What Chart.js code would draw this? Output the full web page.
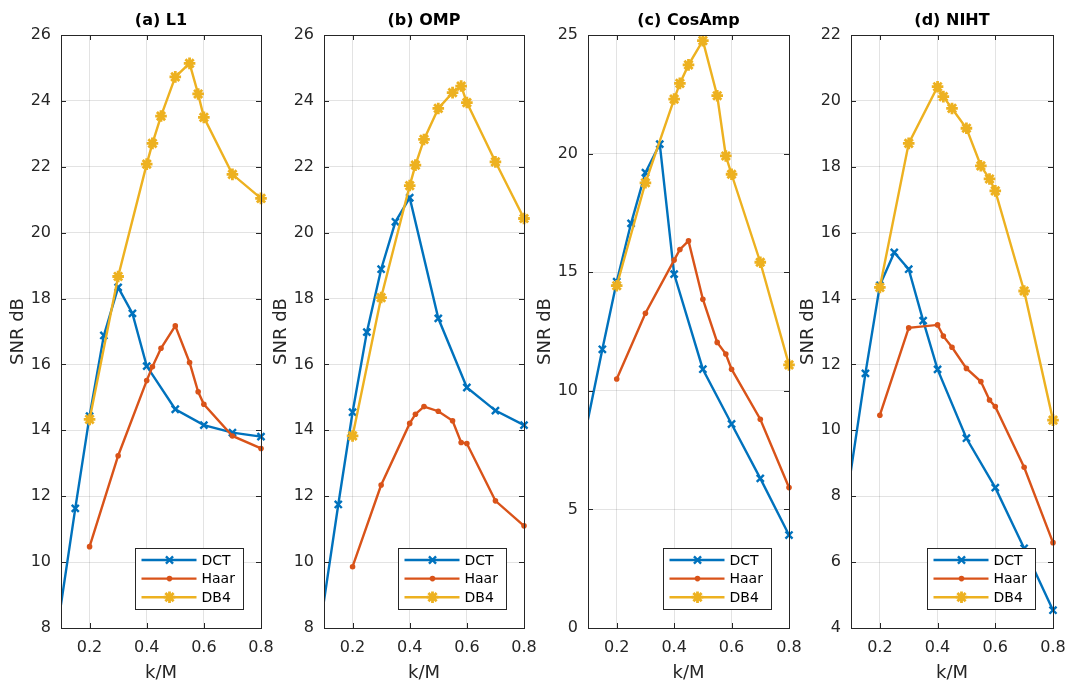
<!DOCTYPE html>
<html>
<head>
<meta charset="utf-8">
<script src="https://cdn.jsdelivr.net/npm/chart.js@4.4.1/dist/chart.umd.min.js"></script>
<style>
  html, body { margin: 0; padding: 0; background: #fff; overflow: hidden; }
  #wrap { position: relative; width: 1068px; height: 686px; overflow: hidden; }
  canvas { position: absolute; top: 0; }
</style>
</head>
<body>
<div id="wrap">
  <canvas id="cA" width="322" height="686" style="left:0px"></canvas>
  <canvas id="cB" width="322" height="686" style="left:263px"></canvas>
  <canvas id="cC" width="323" height="686" style="left:527px"></canvas>
  <canvas id="cD" width="324" height="686" style="left:790px"></canvas>
</div>
<script>
// k/M sample points (DCT has one point left of the visible range)
const kmDct = [0.05, 0.15, 0.2, 0.25, 0.3, 0.35, 0.4, 0.5, 0.6, 0.7, 0.8];
const kmWavelet = [0.2, 0.3, 0.4, 0.42, 0.45, 0.5, 0.55, 0.58, 0.6, 0.7, 0.8];

// (a) L1
const l1Dct = [5.8, 11.63, 14.43, 16.88, 18.34, 17.55, 15.95, 14.64, 14.16, 13.93, 13.81];
const l1Haar = [10.47, 13.23, 15.51, 15.93, 16.49, 17.17, 16.06, 15.17, 14.79, 13.83, 13.45];
const l1Db4 = [14.33, 18.67, 22.08, 22.71, 23.54, 24.73, 25.14, 24.21, 23.5, 21.77, 21.04];

// (b) OMP
const ompDct = [5.9, 11.75, 14.55, 16.98, 18.89, 20.33, 21.06, 17.4, 15.3, 14.6, 14.16];
const ompHaar = [9.86, 12.34, 14.21, 14.49, 14.72, 14.58, 14.29, 13.63, 13.6, 11.86, 11.1];
const ompDb4 = [13.83, 18.03, 21.43, 22.05, 22.83, 23.77, 24.25, 24.45, 23.95, 22.15, 20.43];

// (c) CosAmp
const cosDct = [5.85, 11.75, 14.6, 17.06, 19.2, 20.4, 14.92, 10.91, 8.6, 6.31, 3.92];
const cosHaar = [10.5, 13.27, 15.51, 15.96, 16.32, 13.86, 12.04, 11.55, 10.91, 8.8, 5.92];
const cosDb4 = [14.43, 18.77, 22.3, 22.96, 23.74, 24.76, 22.44, 19.9, 19.13, 15.42, 11.09];

// (d) NIHT
const nihtDct = [5.85, 11.73, 14.4, 15.4, 14.89, 13.33, 11.85, 9.76, 8.26, 6.42, 4.54];
const nihtHaar = [10.46, 13.11, 13.2, 12.86, 12.52, 11.88, 11.48, 10.92, 10.72, 8.88, 6.59];
const nihtDb4 = [14.34, 18.71, 20.43, 20.13, 19.77, 19.17, 18.03, 17.63, 17.27, 14.23, 10.31];

// tick labels
const xTicks = [0.2, 0.4, 0.6, 0.8];
const yTicksL1 = [8, 10, 12, 14, 16, 18, 20, 22, 24, 26];
const yTicksOmp = [8, 10, 12, 14, 16, 18, 20, 22, 24, 26];
const yTicksCos = [0, 5, 10, 15, 20, 25];
const yTicksNiht = [4, 6, 8, 10, 12, 14, 16, 18, 20, 22];

const seriesNames = ["DCT", "Haar", "DB4"];
const axisColor = "#262626";
const colors = ["#0072BD", "#D95319", "#EDB120"];
const fontFamily = "'DejaVu Sans', 'Liberation Sans', Arial, sans-serif";

Chart.defaults.font.family = fontFamily;
Chart.defaults.color = axisColor;

// axes box with inward ticks, like MATLAB's "box on"
const frameTicks = {
    id: "frameTicks",
    afterDraw(chart) {
        const ctx = chart.ctx;
        const a = chart.chartArea;
        const len = 5;
        ctx.save();
        ctx.strokeStyle = axisColor;
        ctx.lineWidth = 1;
        ctx.beginPath();
        chart.scales.x.ticks.forEach((t) => {
            const px = Math.round(chart.scales.x.getPixelForValue(t.value)) + 0.5;
            ctx.moveTo(px, a.bottom); ctx.lineTo(px, a.bottom - len);
            ctx.moveTo(px, a.top); ctx.lineTo(px, a.top + len);
        });
        chart.scales.y.ticks.forEach((t) => {
            const py = Math.round(chart.scales.y.getPixelForValue(t.value)) + 0.5;
            ctx.moveTo(a.left, py); ctx.lineTo(a.left + len, py);
            ctx.moveTo(a.right, py); ctx.lineTo(a.right - len, py);
        });
        ctx.stroke();
        ctx.strokeRect(Math.round(a.left) + 0.5, Math.round(a.top) + 0.5,
            Math.round(a.right - a.left), Math.round(a.bottom - a.top));
        ctx.restore();
    }
};

// legend box inside the lower right corner, drawn over the data
const insideLegend = {
    id: "insideLegend",
    afterDraw(chart) {
        const ctx = chart.ctx;
        const a = chart.chartArea;
        const w = 108, h = 61;
        const left = Math.round(a.right - 18 - w) + 0.5;
        const top = Math.round(a.bottom - 19 - h) + 0.5;
        ctx.save();
        ctx.fillStyle = "#fff";
        ctx.fillRect(left, top, w, h);
        ctx.strokeStyle = axisColor;
        ctx.lineWidth = 1;
        ctx.strokeRect(left, top, w, h);
        chart.data.datasets.forEach((ds, i) => {
            const y = top + 11.5 + i * 18.6;
            ctx.strokeStyle = ds.borderColor;
            ctx.lineWidth = 2.4;
            ctx.beginPath();
            ctx.moveTo(left + 6, y);
            ctx.lineTo(left + 61, y);
            ctx.stroke();
            ctx.fillStyle = ds.pointBackgroundColor;
            ctx.strokeStyle = ds.pointBorderColor;
            ctx.lineWidth = ds.pointBorderWidth;
            Chart.helpers.drawPoint(ctx, {
                pointStyle: ds.pointStyle,
                radius: ds.pointRadius,
                borderWidth: ds.pointBorderWidth,
                rotation: 0
            }, left + 34, y);
            ctx.fillStyle = "#000";
            ctx.font = "14px " + fontFamily;
            ctx.textBaseline = "middle";
            ctx.textAlign = "left";
            ctx.fillText(ds.label, left + 66, y + 1);
        });
        ctx.restore();
    }
};

function makeDatasets(dct, haar, db4) {
    return [
        {
            label: seriesNames[0],
            data: kmDct.map((x, i) => ({ x: x, y: dct[i] })),
            borderColor: colors[0],
            pointBackgroundColor: colors[0],
            pointBorderColor: colors[0],
            pointStyle: "crossRot",
            pointRadius: 5,
            pointBorderWidth: 2.4,
            order: 2
        },
        {
            label: seriesNames[1],
            data: kmWavelet.map((x, i) => ({ x: x, y: haar[i] })),
            borderColor: colors[1],
            pointBackgroundColor: colors[1],
            pointBorderColor: colors[1],
            pointStyle: "circle",
            pointRadius: 2.8,
            pointBorderWidth: 0,
            order: 1
        },
        {
            label: seriesNames[2],
            data: kmWavelet.map((x, i) => ({ x: x, y: db4[i] })),
            borderColor: colors[2],
            pointBackgroundColor: colors[2],
            pointBorderColor: colors[2],
            pointStyle: "star",
            pointRadius: 5.8,
            pointBorderWidth: 2.8,
            order: 0
        }
    ];
}

function makePanel(canvasId, titleText, yMin, yMax, yTicks, datasets) {
    return new Chart(document.getElementById(canvasId), {
        type: "line",
        data: { datasets: datasets },
        plugins: [frameTicks, insideLegend],
        options: {
            responsive: false,
            animation: false,
            layout: { padding: 0 },
            datasets: {
                line: {
                    borderWidth: 2.4,
                    tension: 0,
                    fill: false,
                    clip: { left: 0, right: 10, top: 10, bottom: 10 }
                }
            },
            plugins: {
                legend: { display: false },
                tooltip: { enabled: false },
                title: {
                    display: true,
                    text: titleText,
                    color: "#000",
                    font: { size: 16, weight: "bold" },
                    padding: { top: 11, bottom: 4.8 }
                }
            },
            scales: {
                x: {
                    type: "linear",
                    min: 0.1,
                    max: 0.8,
                    afterBuildTicks: (scale) => { scale.ticks = xTicks.map((v) => ({ value: v })); },
                    afterFit: (scale) => {
                        // keep the plot box symmetric in the canvas so the title centres over it
                        scale.height = 58;
                        scale.paddingLeft = 0;
                        scale.paddingRight = 61;
                    },
                    grid: { color: "rgba(38,38,38,0.13)", drawTicks: false },
                    border: { display: false },
                    ticks: {
                        padding: 10,
                        color: axisColor,
                        font: { size: 16 },
                        maxRotation: 0,
                        callback: (v) => v.toFixed(1)
                    },
                    title: {
                        display: true,
                        text: "k/M",
                        color: axisColor,
                        font: { size: 18 },
                        padding: { top: 0, bottom: 2 }
                    }
                },
                y: {
                    type: "linear",
                    min: yMin,
                    max: yMax,
                    afterBuildTicks: (scale) => { scale.ticks = yTicks.map((v) => ({ value: v })); },
                    afterFit: (scale) => {
                        scale.width = 61;
                        scale.paddingTop = 0;
                        scale.paddingBottom = 0;
                    },
                    grid: { color: "rgba(38,38,38,0.13)", drawTicks: false },
                    border: { display: false },
                    ticks: {
                        padding: 10,
                        color: axisColor,
                        font: { size: 16 }
                    },
                    title: {
                        display: true,
                        text: "SNR dB",
                        color: axisColor,
                        font: { size: 18 },
                        padding: { top: 8, bottom: 0 }
                    }
                }
            }
        }
    });
}

makePanel("cA", "(a) L1", 8, 26, yTicksL1, makeDatasets(l1Dct, l1Haar, l1Db4));
makePanel("cB", "(b) OMP", 8, 26, yTicksOmp, makeDatasets(ompDct, ompHaar, ompDb4));
makePanel("cC", "(c) CosAmp", 0, 25, yTicksCos, makeDatasets(cosDct, cosHaar, cosDb4));
makePanel("cD", "(d) NIHT", 4, 22, yTicksNiht, makeDatasets(nihtDct, nihtHaar, nihtDb4));
</script>
</body>
</html>
